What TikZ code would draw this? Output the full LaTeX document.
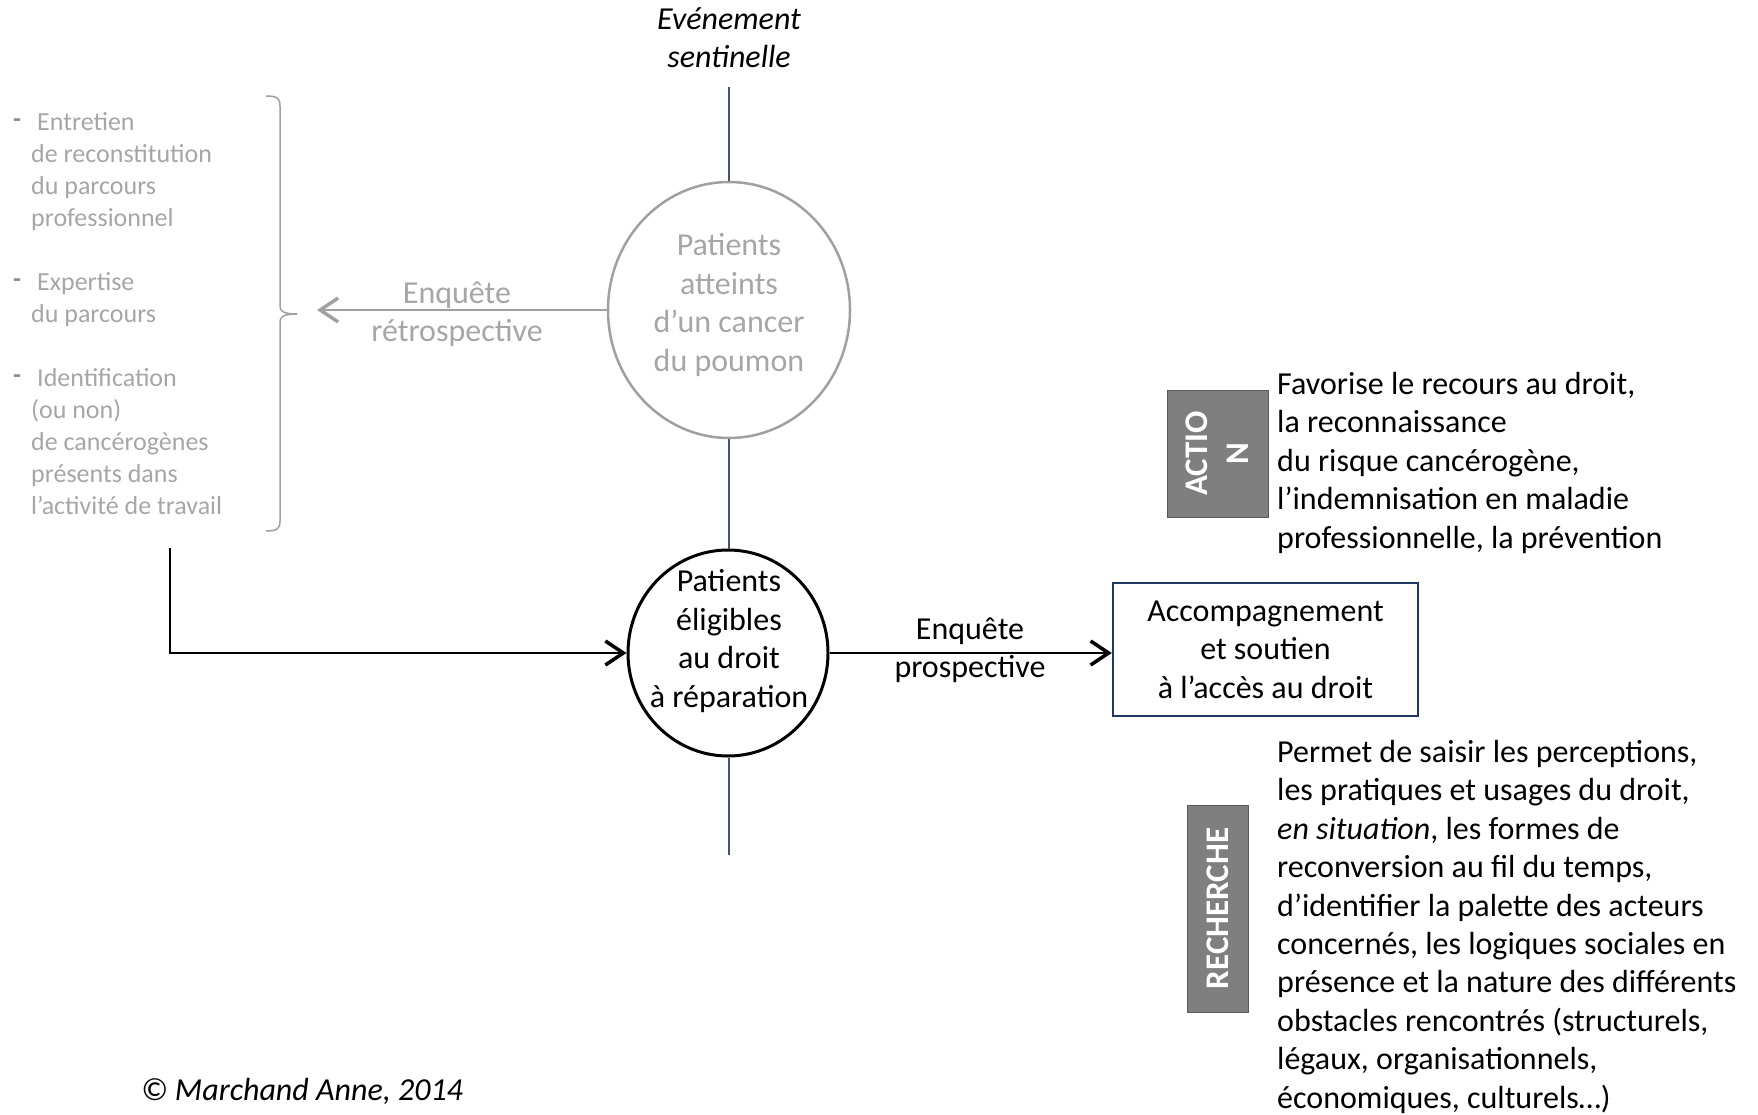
\documentclass[tikz,border=0pt]{standalone}
\usepackage{fontspec}
\setmainfont{Carlito}
\usetikzlibrary{shapes.geometric,arrows.meta}

\definecolor{palegray}{RGB}{166,166,166}
\definecolor{ringgray}{RGB}{160,160,160}
\definecolor{slate}{RGB}{68,84,106}
\definecolor{navy}{RGB}{31,56,100}
\definecolor{tabgray}{RGB}{127,127,127}

\newcommand{\dashitem}[1]{\leavevmode\llap{\raisebox{3pt}{\bfseries\textcolor{black!45}{-}}\hspace{10pt}}\hspace*{6pt}#1}

\tikzset{
  bodytext/.style={font=\fontsize{32}{38.4}\selectfont, inner sep=0pt},
  listtext/.style={font=\fontsize{26}{32}\selectfont, text=palegray, align=left, inner sep=0pt},
  ring/.style={ellipse, draw, inner sep=0pt},
  tab/.style={rotate=90, fill=tabgray, draw=black!65, line width=1pt, text=white,
    font=\fontsize{33}{41}\selectfont\bfseries, align=center, inner sep=0pt},
  barb/.style={-{Straight Barb[length=18pt,width=24pt,line width=3.5pt]}},
  stem/.style={slate, line width=1.5pt},
}

\begin{document}
\begin{tikzpicture}[x=1pt,y=-1pt]
  \useasboundingbox (0,0) rectangle (1758,1115);

  \node[bodytext, font=\fontsize{32}{38}\selectfont\itshape, align=center] (event) at (729,38) {Evénement\\sentinelle};

  \node[ring, draw=ringgray, line width=2.5pt, minimum width=242pt, minimum height=256pt] (patients) at (729,310) {};
  \node[bodytext, text=palegray, align=center] (patientstext) at (729,305) {Patients\\atteints\\d’un cancer\\du poumon};

  \node[ring, draw=black, line width=3pt, minimum width=200pt, minimum height=206pt] (eligible) at (728,653) {};
  \node[bodytext, align=center] (eligibletext) at (729,641) {Patients\\éligibles\\au droit\\à réparation};

  \node[bodytext, draw=navy, line width=2.5pt, minimum width=305pt, minimum height=133pt, align=center] (accomp) at (1265.5,649.5) {Accompagnement\\et soutien\\à l’accès au droit};

  \node[tab, minimum width=127pt, minimum height=101pt] (action) at (1217.5,453.5) {ACTIO\\N};
  \node[tab, minimum width=207pt, minimum height=61pt] (research) at (1217.5,908.5) {RECHERCHE};

  \node[bodytext, align=left, anchor=north west] (actiontext) at (1277,372) {Favorise le recours au droit,\\la reconnaissance\\du risque cancérogène,\\l’indemnisation en maladie\\professionnelle, la prévention};
  \node[bodytext, align=left, anchor=north west] (researchtext) at (1277,740) {Permet de saisir les perceptions,\\les pratiques et usages du droit,\\\textit{en situation}, les formes de\\reconversion au fil du temps,\\d’identifier la palette des acteurs\\concernés, les logiques sociales en\\présence et la nature des différents\\obstacles rencontrés (structurels,\\légaux, organisationnels,\\économiques, culturels…)};

  \node[listtext, anchor=north west] (steps) at (31,112) {\dashitem{Entretien}\\de reconstitution\\du parcours\\professionnel\\[32pt]\dashitem{Expertise}\\du parcours\\[32pt]\dashitem{Identification}\\(ou non)\\de cancérogènes\\présents dans\\l’activité de travail};

  \node[bodytext, text=palegray, align=center] (retro) at (457,314) {Enquête\\rétrospective};
  \node[bodytext, align=center] (prosp) at (970,650) {Enquête\\prospective};
  \node[bodytext, font=\fontsize{32}{38.4}\selectfont\itshape] (copyright) at (302,1091) {© Marchand Anne, 2014};

  \coordinate (evtline) at (729,87);
  \coordinate (lowend) at (729,855);
  \coordinate (retroend) at (317,310);
  \coordinate (liststart) at (170,548);

  \draw[stem] (evtline) -- (patients.north);
  \draw[stem] (patients.south) -- (patients.south |- eligible.north);
  \draw[stem] (patients.south |- eligible.south) -- (lowend);

  \draw[ringgray, line width=2pt, barb] (patients.west) -- (retroend);
  \draw[line width=2.5pt, barb] (liststart) |- (eligible.west);
  \draw[line width=2pt, barb] (eligible.east) -- (eligible.east -| accomp.west);

  \draw[ringgray, line width=1.5pt] (266,96) .. controls (277,96) and (280,98) .. (280,106) -- (280,306)
    .. controls (280,311) and (283,314) .. (297,314) .. controls (283,314) and (280,317) .. (280,322)
    -- (280,521) .. controls (280,529) and (277,531) .. (266,531);
\end{tikzpicture}
\end{document}
